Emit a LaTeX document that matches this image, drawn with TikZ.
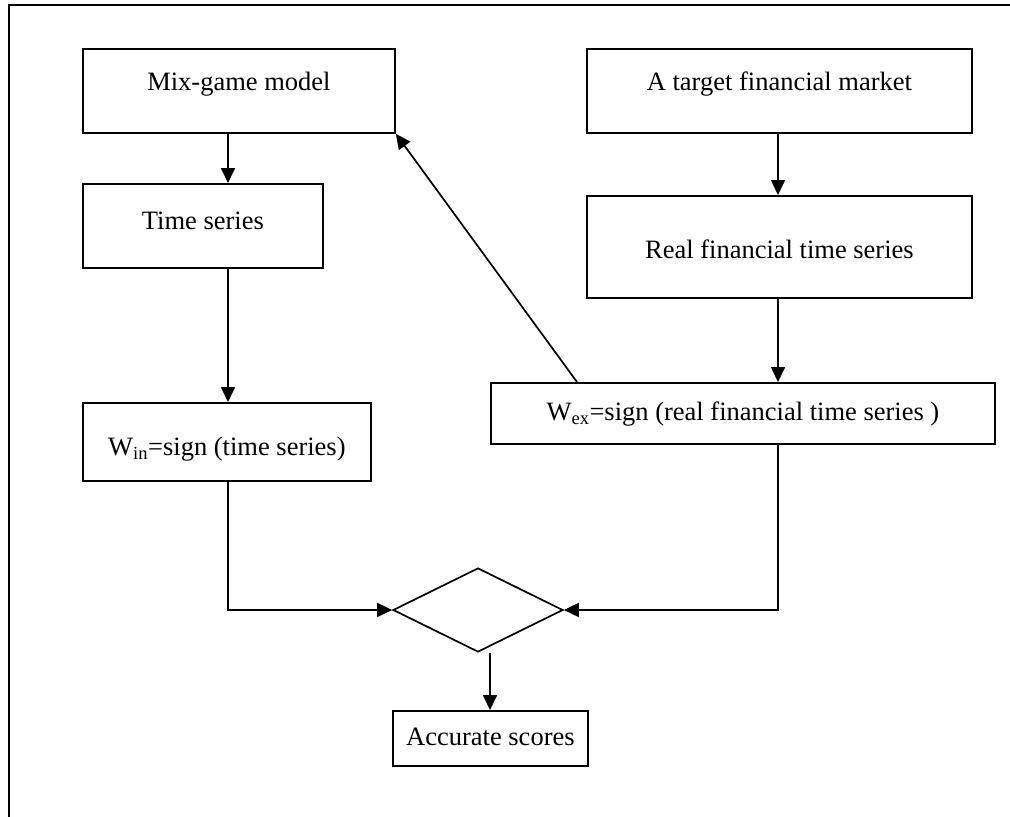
\documentclass[tikz,border=0pt]{standalone}
\usepackage{fontspec}
\setmainfont{Liberation Serif}
\usetikzlibrary{arrows.meta,shapes.geometric,calc}
\begin{document}
\begin{tikzpicture}[x=1pt,y=-1pt,
  box/.style={draw,line width=1.8pt,inner sep=0pt,anchor=north west,font=\fontsize{26.5}{30}\selectfont},
  arr/.style={line width=1.7pt,-{Triangle[length=15pt,width=14pt]}},
  frame/.style={line width=2.6pt}]
\useasboundingbox (0,0) rectangle (1010,817);
\coordinate (ftl) at (9,5);
\coordinate (ftr) at (1010,5);
\coordinate (fbl) at (9,817);
\draw[frame] (ftr) -- (ftl) -- (fbl);
\coordinate (cl) at (228,0);
\coordinate (cr) at (778,0);
\coordinate (cb) at (490,0);
\coordinate (cd) at (577,0);
\node[box,minimum width=312pt,text height=42pt,text depth=42pt] (mix) at (82,48) {Mix-game model};
\node[box,minimum width=385pt,text height=42pt,text depth=42pt] (market) at (586,48) {A target financial market};
\node[box,minimum width=240pt,text height=46pt,text depth=38pt] (ts) at (82,183) {Time series};
\node[box,minimum width=385pt,text height=63pt,text depth=39pt] (rts) at (586,195) {Real financial time series};
\node[box,minimum width=288pt,text height=53pt,text depth=25pt] (win) at (82,402) {W\textsubscript{in}=sign (time series)};
\node[box,minimum width=504pt,text height=38pt,text depth=23pt] (wex) at (490,382) {W\textsubscript{ex}=sign (real financial time series )};
\node[draw,diamond,line width=1.7pt,inner sep=0pt,minimum width=170pt,minimum height=84pt] (dia) at (478,610) {};
\node[box,minimum width=195pt,text height=35pt,text depth=20pt] (acc) at (392,710) {Accurate scores};
\draw[arr] (cl |- mix.south) -- (cl |- ts.north);
\draw[arr] (cl |- ts.south) -- (cl |- win.north);
\draw[arr] (cl |- win.south) |- (dia.west);
\draw[arr] (cr |- market.south) -- (cr |- rts.north);
\draw[arr] (cr |- rts.south) -- (cr |- wex.north);
\draw[arr] (cr |- wex.south) |- (dia.east);
\draw[arr] (cb |- dia.south) -- (cb |- acc.north);
\draw[arr] (cd |- wex.north) -- (mix.south east);
\end{tikzpicture}
\end{document}
